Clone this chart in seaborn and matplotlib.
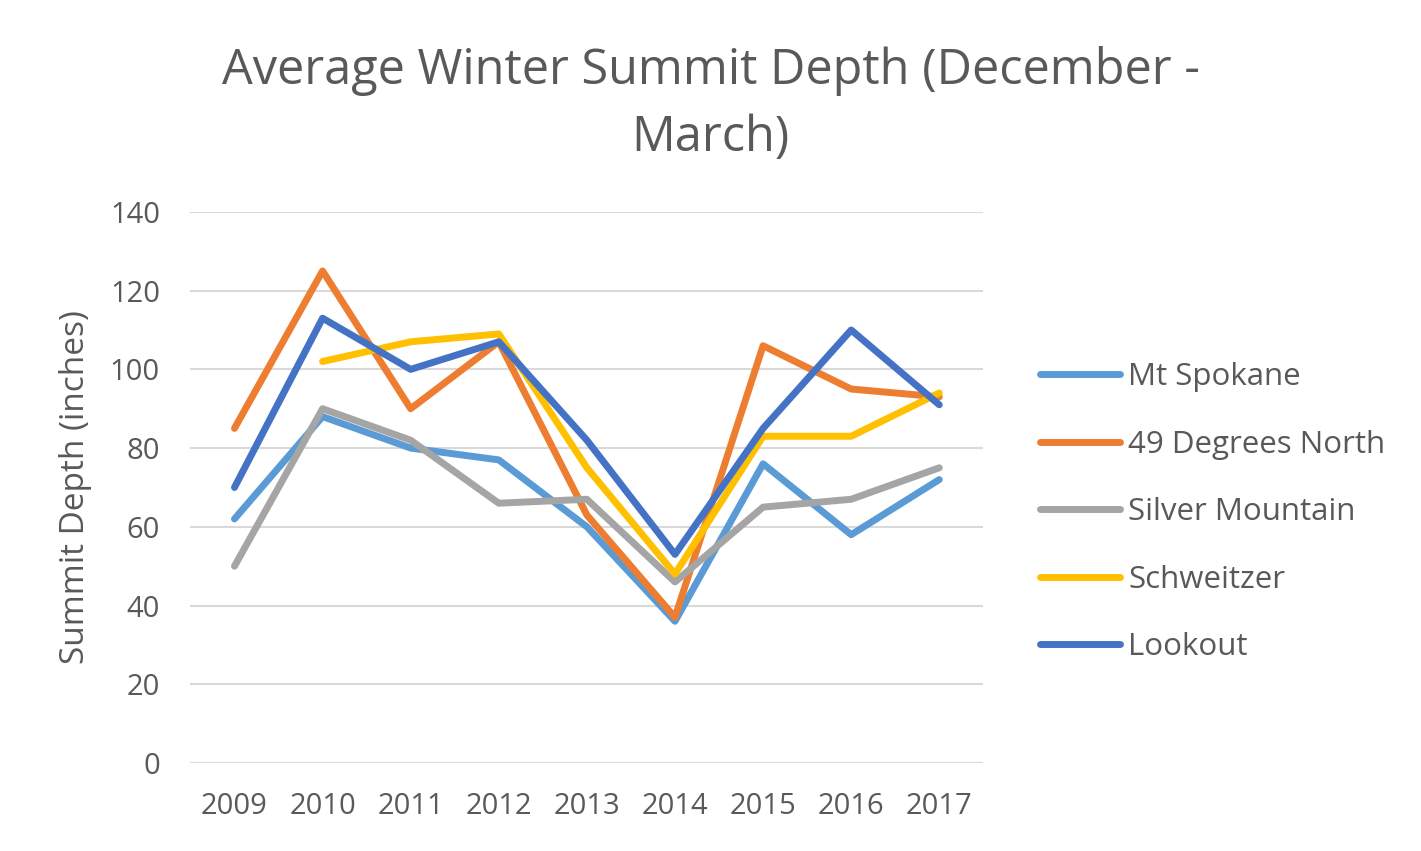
import numpy as np
import pandas as pd
import matplotlib
matplotlib.use("Agg")
import matplotlib.pyplot as plt
import seaborn as sns

# winter summit depth, inches
years = [2009, 2010, 2011, 2012, 2013, 2014, 2015, 2016, 2017]
mt_spokane = [62, 88, 80, 77, 60, 36, 76, 58, 72]
degrees_49 = [85, 125, 90, 107, 63, 37, 106, 95, 93]
silver_mountain = [50, 90, 82, 66, 67, 46, 65, 67, 75]
schweitzer = [np.nan, 102, 107, 109, 75, 48, 83, 83, 94]
lookout = [70, 113, 100, 107, 82, 53, 85, 110, 91]

resorts = ["Mt Spokane", "49 Degrees North", "Silver Mountain", "Schweitzer", "Lookout"]
colors = ["#5B9BD5", "#ED7D31", "#A5A5A5", "#FFC000", "#4472C4"]

df = pd.DataFrame({"year": years, "Mt Spokane": mt_spokane, "49 Degrees North": degrees_49,
                   "Silver Mountain": silver_mountain, "Schweitzer": schweitzer, "Lookout": lookout})
long = df.melt(id_vars="year", var_name="resort", value_name="depth").dropna()

sns.set_style("white")
plt.rcParams["font.family"] = ["Open Sans", "DejaVu Sans"]
text_col = "#595959"

fig = plt.figure(figsize=(14.21, 8.51), dpi=100)
ax = fig.add_axes([0.134, 0.1034, 0.558, 0.6476])

sns.lineplot(data=long, x="year", y="depth", hue="resort", hue_order=resorts,
             palette=colors, linewidth=5, ax=ax, legend=True)

ax.set_xlim(2008.5, 2017.5)
ax.set_ylim(0, 140)
ax.set_xticks(years)
ax.set_xticklabels([str(y) for y in years])
ax.set_yticks(range(0, 141, 20))
ax.yaxis.grid(True, color="#D9D9D9", linewidth=1.5)
ax.set_axisbelow(True)
for s in ax.spines.values():
    s.set_visible(False)
ax.tick_params(axis="both", length=0, labelsize=21, colors=text_col)
ax.tick_params(axis="x", pad=21)
ax.tick_params(axis="y", pad=22)
ax.set_xlabel("")
ax.set_ylabel("Summit Depth (inches)", fontsize=24, color=text_col, labelpad=13)

fig.suptitle("Average Winter Summit Depth (December -\nMarch)", x=0.5, y=0.946,
             fontsize=35, color=text_col, linespacing=1.47)

handles, labels = ax.get_legend_handles_labels()
leg = ax.legend(handles, labels, loc="center left", bbox_to_anchor=(1.072, 0.455),
                frameon=False, fontsize=22.5, handlelength=2.56, labelspacing=1.2,
                handletextpad=0.25, borderpad=0, borderaxespad=0, labelcolor=text_col)
for line in leg.get_lines():
    line.set_linewidth(5)

fig.savefig("out.png", dpi=100)
